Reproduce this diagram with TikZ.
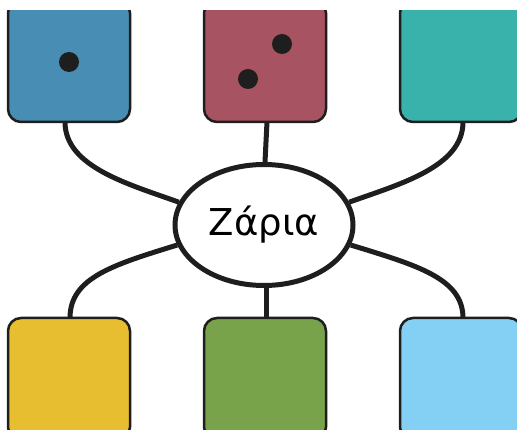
\documentclass[tikz,border=0pt]{standalone}
\usepackage{fontspec}
\setmainfont{DejaVu Sans}
\usetikzlibrary{shapes.geometric,backgrounds}
\definecolor{ink}{HTML}{1E1E1E}
\definecolor{cblue}{HTML}{488DB3}
\definecolor{cred}{HTML}{A75361}
\definecolor{cteal}{HTML}{3AB2AC}
\definecolor{cyellow}{HTML}{E6BE2F}
\definecolor{cgreen}{HTML}{79A34A}
\definecolor{clight}{HTML}{83D0F4}
\tikzset{
  die/.style={draw=ink, line width=2.5pt, rounded corners=13pt, minimum width=122pt, minimum height=122pt, inner sep=0pt, outer sep=0pt},
  pip/.style={circle, fill=ink, minimum size=20pt, inner sep=0pt},
  hub/.style={ellipse, draw=ink, fill=white, line width=5pt, minimum width=178pt, minimum height=121pt, inner sep=0pt, font=\fontsize{37}{40}\selectfont},
  link/.style={draw=ink, line width=5pt}
}
\begin{document}
\begin{tikzpicture}[x=1pt,y=-1pt]
\useasboundingbox (0,0) rectangle (517,430);
\clip (0,11) rectangle (517,430);
\node[die, fill=cblue] (b1) at (69,61) {};
\node[die, fill=cred] (b2) at (265,61) {};
\node[die, fill=cteal] (b3) at (461,61) {};
\node[die, fill=cyellow] (b4) at (69,379) {};
\node[die, fill=cgreen] (b5) at (265,379) {};
\node[die, fill=clight] (b6) at (461,379) {};
\node[pip] (p1) at (69,62) {};
\node[pip] (p2) at (282,44) {};
\node[pip] (p3) at (248,79) {};
\node[hub] (e) at (264,225) {Ζάρια};
\begin{pgfonlayer}{background}
\draw[link] ([xshift=-4pt]b1.south) .. controls +(0,45) and +(-50,-18) .. (e.165);
\draw[link] ([xshift=2pt]b2.south) -- ([xshift=1pt]e.north);
\draw[link] ([xshift=2pt]b3.south) .. controls +(0,45) and +(50,-18) .. (e.15);
\draw[link] (e.193) .. controls +(-65,20) and +(0,-40) .. ([xshift=1pt]b4.north);
\draw[link] ([xshift=2pt]e.south) -- ([xshift=1pt]b5.north);
\draw[link] (e.347) .. controls +(65,20) and +(0,-40) .. ([xshift=2pt]b6.north);
\end{pgfonlayer}
\end{tikzpicture}
\end{document}
